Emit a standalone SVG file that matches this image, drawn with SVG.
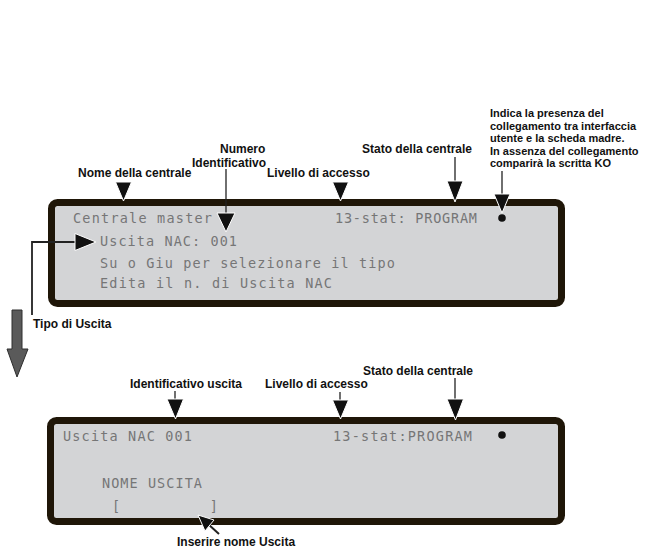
<svg xmlns="http://www.w3.org/2000/svg" width="651" height="548" viewBox="0 0 651 548">
<style>
.lcd{fill:#d3d4d6;stroke:#1f1608;stroke-width:7}
.mono{font-family:"DejaVu Sans Mono","Liberation Mono",monospace;font-size:13.5px;fill:#767676;white-space:pre}
.lbl{font-family:"Liberation Sans",Arial,sans-serif;font-weight:bold;font-size:12px;fill:#111}
.lbs{font-family:"Liberation Sans",Arial,sans-serif;font-weight:bold;font-size:11px;fill:#111}
.ln{stroke:#222;stroke-width:1.3;fill:none}
.hd{fill:#111;stroke:#fff;stroke-width:1}
.dot{fill:#111}
</style>
<rect width="651" height="548" fill="#fff"/>
<g id="lcd-top">
<rect class="lcd" x="51.5" y="202.5" width="510" height="101" rx="6"/>
<text class="mono" x="73" y="223" textLength="139" lengthAdjust="spacing">Centrale master</text>
<text class="mono" x="335" y="223" textLength="142" lengthAdjust="spacing">13-stat: PROGRAM</text>
<text class="mono" x="100" y="246" textLength="137" lengthAdjust="spacing">Uscita NAC: 001</text>
<text class="mono" x="100" y="268" textLength="295" lengthAdjust="spacing">Su o Giu per selezionare il tipo</text>
<text class="mono" x="100" y="288" textLength="232" lengthAdjust="spacing">Edita il n. di Uscita NAC</text>
<circle class="dot" cx="502" cy="218" r="3.8"/>
</g>
<g id="lcd-bottom">
<rect class="lcd" x="50.5" y="420.5" width="511" height="101" rx="6"/>
<text class="mono" x="63" y="441" textLength="129" lengthAdjust="spacing">Uscita NAC 001</text>
<text class="mono" x="333" y="441" textLength="139" lengthAdjust="spacing">13-stat:PROGRAM</text>
<text class="mono" x="102" y="488" textLength="100" lengthAdjust="spacing">NOME USCITA</text>
<text class="mono" x="112" y="511" textLength="106" lengthAdjust="spacing">[          ]</text>
<circle class="dot" cx="502" cy="435" r="3.8"/>
</g>
<g id="labels">
<text class="lbl" x="78" y="177">Nome della centrale</text>
<text class="lbl" x="220" y="153">Numero</text>
<text class="lbl" x="192" y="167">Identificativo</text>
<text class="lbl" x="267" y="177">Livello di accesso</text>
<text class="lbl" x="362" y="153">Stato della centrale</text>
<g id="label-indica">
<text class="lbs" x="490" y="117">Indica la presenza del</text>
<text class="lbs" x="490" y="130">collegamento tra interfaccia</text>
<text class="lbs" x="490" y="142">utente e la scheda madre.</text>
<text class="lbs" x="490" y="155">In assenza del collegamento</text>
<text class="lbs" x="490" y="167">comparirà la scritta KO</text>
</g>
<text class="lbl" x="33" y="328">Tipo di Uscita</text>
<text class="lbl" x="130" y="388">Identificativo uscita</text>
<text class="lbl" x="265" y="388">Livello di accesso</text>
<text class="lbl" x="363" y="375">Stato della centrale</text>
<text class="lbl" x="177" y="546">Inserire nome Uscita</text>
</g>
<g id="connectors">
<polygon class="hd" points="115.5,182 131.5,182 123.5,201"/>
<line class="ln" x1="226" y1="169" x2="226" y2="214"/>
<polygon class="hd" points="217,213 235,213 226,232"/>
<polygon class="hd" points="332.5,182 348.5,182 340.5,201"/>
<line class="ln" x1="455" y1="157" x2="455" y2="182"/>
<polygon class="hd" points="447,181 463,181 455,202"/>
<line class="ln" x1="502" y1="171" x2="502" y2="195"/>
<polygon class="hd" points="494,194 510,194 502,213"/>
<polyline class="ln" points="32,315 32,242 77,242" style="stroke-width:1.8"/>
<polygon class="hd" points="75,233.5 96,242 75,250.5"/>
<polygon points="12,310 22,310 22,349 28,349 17,377 7,349 12,349" fill="#5a5a5a" stroke="#2e2e2e" stroke-width="1"/>
<line class="ln" x1="175" y1="391" x2="175" y2="400"/>
<polygon class="hd" points="167,399 183.5,399 175.5,419"/>
<line class="ln" x1="340" y1="392" x2="340" y2="401"/>
<polygon class="hd" points="332.5,400 348.5,400 340.5,419"/>
<line class="ln" x1="455" y1="378" x2="455" y2="400"/>
<polygon class="hd" points="447,399 463.5,399 455.5,420"/>
<line class="ln" x1="219" y1="534" x2="208" y2="524" style="stroke-width:2"/>
<polygon class="hd" points="198,515 214,520 205,531"/>
</g>
</svg>
